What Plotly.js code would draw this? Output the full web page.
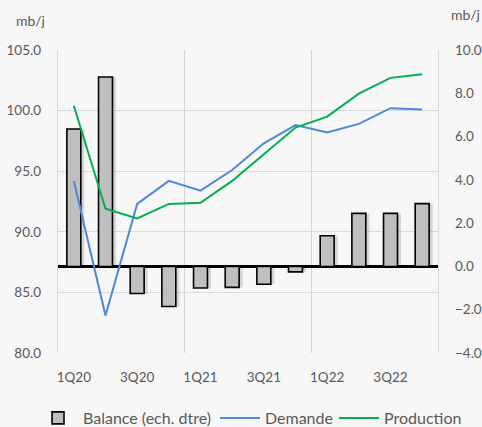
<!DOCTYPE html>
<html>
<head>
<meta charset="utf-8">
<script src="https://cdn.plot.ly/plotly-3.0.1.min.js"></script>
<style>
html,body{margin:0;padding:0;background:#f7f7f7;}
#chart{width:482px;height:427px;}
</style>
</head>
<body>
<div id="chart"></div>
<script>
const quarters = ["1Q20","2Q20","3Q20","4Q20","1Q21","2Q21","3Q21","4Q21","1Q22","2Q22","3Q22","4Q22"];
const tickLabels = ["1Q20","3Q20","1Q21","3Q21","1Q22","3Q22"];
const balance = [6.35, 8.75, -1.25, -1.85, -1.0, -0.97, -0.82, -0.25, 1.42, 2.45, 2.45, 2.9];
const demande = [94.2, 83.1, 92.3, 94.2, 93.4, 95.1, 97.3, 98.8, 98.2, 98.9, 100.2, 100.1];
const production = [100.4, 91.9, 91.1, 92.3, 92.4, 94.2, 96.4, 98.6, 99.5, 101.4, 102.7, 103.0];

const grey = "#595959";
const fontFam = "Lato, 'Open Sans', sans-serif";

const traces = [
  { // soft shadow behind the bars
    type: "bar", x: quarters, y: balance, yaxis: "y",
    width: 0.5, offset: -0.17,
    marker: {color: "rgba(0,0,0,0.14)", line: {width: 0}},
    showlegend: false, hoverinfo: "skip"
  },
  {
    type: "bar", x: quarters, y: balance, yaxis: "y", name: "Balance (ech. dtre)", legend: "legend",
    width: 0.44, offset: -0.22,
    marker: {color: "#bfbfbf", line: {color: "#000000", width: 1.6}}
  },
  {
    type: "scatter", mode: "lines", x: quarters, y: demande, yaxis: "y2", name: "Demande", legend: "legend2",
    line: {color: "#4f88d8", width: 2}
  },
  {
    type: "scatter", mode: "lines", x: quarters, y: production, yaxis: "y2", name: "Production", legend: "legend3",
    line: {color: "#00b050", width: 2}
  }
];

function leg(xpx) {
  return {orientation: "h", xref: "container", x: xpx / 482, xanchor: "left",
          yref: "container", y: 1 - 418 / 427, yanchor: "middle",
          font: {family: fontFam, size: 16, color: grey},
          bgcolor: "rgba(0,0,0,0)", itemwidth: 40};
}

const layout = {
  width: 482, height: 427,
  paper_bgcolor: "#f7f7f7", plot_bgcolor: "#f7f7f7",
  margin: {l: 58, r: 44, t: 50, b: 74, autoexpand: false},
  font: {family: fontFam, size: 13, color: grey},
  barmode: "overlay",
  showlegend: true,
  legend: leg(33),
  legend2: leg(215),
  legend3: leg(334),
  xaxis: {
    type: "category", tickmode: "array", tickvals: tickLabels, ticktext: tickLabels,
    showgrid: false, zeroline: false, showline: false, ticks: "",
    ticklabelstandoff: 14, tickfont: {size: 13.5, color: grey}
  },
  xaxis2: {
    overlaying: "x", type: "linear", range: [-0.5, 11.5], tick0: -0.5, dtick: 4,
    showgrid: true, gridcolor: "#d4d4d4", gridwidth: 1.3, showticklabels: false,
    zeroline: false, showline: false, ticks: ""
  },
  yaxis: {
    side: "right", range: [-4, 10], dtick: 2, tickformat: ".1f",
    showgrid: false, zeroline: true, zerolinecolor: "#000000", zerolinewidth: 3,
    showline: false, ticks: "", ticklabelstandoff: 16, tickfont: {size: 13.5, color: grey}
  },
  yaxis2: {
    overlaying: "y", side: "left", range: [80, 105], dtick: 5, tickformat: ".1f",
    showgrid: true, gridcolor: "#d9d9d9", gridwidth: 1.3, zeroline: false,
    showline: true, linecolor: "#d9d9d9", linewidth: 1.3, mirror: true,
    ticks: "", ticklabelstandoff: 13, tickfont: {size: 13.5, color: grey}
  },
  annotations: [
    {text: "mb/j", xref: "paper", yref: "paper", x: -0.072, y: 1.096, xanchor: "center", yanchor: "middle",
     showarrow: false, font: {size: 14, color: grey}},
    {text: "mb/j", xref: "paper", yref: "paper", x: 1.072, y: 1.118, xanchor: "center", yanchor: "middle",
     showarrow: false, font: {size: 14, color: grey}}
  ]
};

// empty trace keeps the vertical-gridline axis alive
traces.push({type: "scatter", x: [], y: [], xaxis: "x2", yaxis: "y2", showlegend: false, hoverinfo: "skip"});

Plotly.newPlot("chart", traces, layout, {displayModeBar: false, staticPlot: true});
</script>
</body>
</html>
